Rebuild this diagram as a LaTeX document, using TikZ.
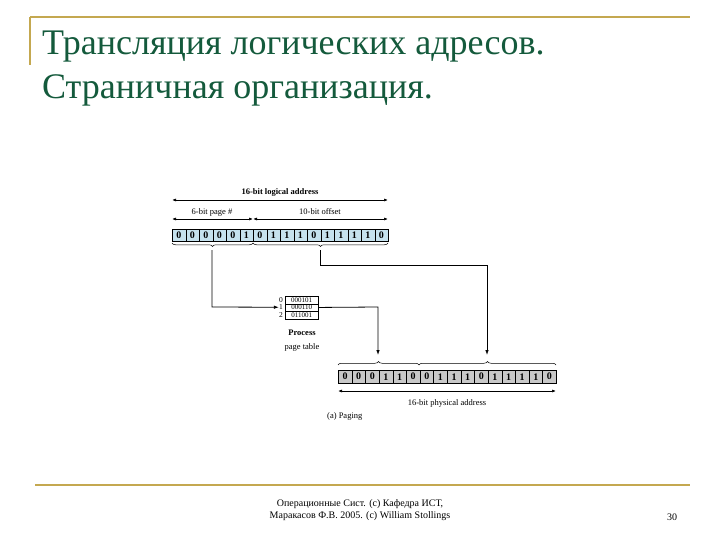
\documentclass[tikz,border=0pt]{standalone}
\usepackage{fontspec}
\setmainfont{Liberation Serif}
\newfontfamily\serf{Liberation Serif}
\usetikzlibrary{decorations.pathreplacing,arrows.meta}
\definecolor{gold}{RGB}{196,168,80}
\definecolor{titlegreen}{RGB}{20,90,60}
\definecolor{cellblue}{RGB}{198,226,238}
\definecolor{cellgrey}{RGB}{200,200,200}
\tikzset{
  dim/.style={{Latex[length=4pt,width=3pt]}-{Latex[length=4pt,width=3pt]},line width=0.7pt},
  conn/.style={-{Latex[length=5pt,width=3.5pt]},line width=0.8pt},
  brc/.style={decorate,decoration={brace,amplitude=3.5pt},line width=0.5pt},
  lbl/.style={font=\serf\fontsize{8.5}{9}\selectfont,inner sep=0pt},
  blbl/.style={font=\serf\fontsize{8.5}{9}\selectfont\bfseries,inner sep=0pt},
  bit/.style={font=\serf\fontsize{10}{10}\selectfont\bfseries,inner sep=0pt}
}
\begin{document}
\begin{tikzpicture}[x=1pt,y=-1pt]
\useasboundingbox (0,0) rectangle (720,540);
% frame
\draw[gold,line width=1.5pt] (30,17) -- (690,17);
\draw[gold,line width=1.5pt] (30,17) -- (30,65);
\draw[gold,line width=2pt] (35,485) -- (690,485);
% title
\node[anchor=base west,text=titlegreen,font=\serf\fontsize{36}{38}\selectfont,inner sep=0pt] (t1) at (42,55) {Трансляция логических адресов.};
\node[anchor=base west,text=titlegreen,font=\serf\fontsize{36}{38}\selectfont,inner sep=0pt] (t2) at (42,99) {Страничная организация.};
% logical address
\node[blbl] (la) at (280,192) {16-bit logical address};
\draw[dim] (172,200) -- (388,200);
\node[lbl] (pg) at (212,212) {6-bit page \#};
\node[lbl] (of) at (320,212) {10-bit offset};
\draw[dim] (172,219) -- (253,219);
\draw[dim] (253,219) -- (388,219);
\foreach \b [count=\i from 0] in {0,0,0,0,0,1,0,1,1,1,0,1,1,1,1,0}{
  \node[draw,fill=cellblue,minimum width=13.5pt,minimum height=12pt,bit,anchor=north west] (l\i) at ({172+13.5*\i},229) {\b};
}
\draw[brc] (253,243) -- (172,243);
\draw[brc] (388,243) -- (253,243);
\coordinate (b1) at (212,250);
\coordinate (b2) at (320,250);
% page table
\foreach \v [count=\i from 0] in {000101,000110,011001}{
  \node[draw,minimum width=33pt,minimum height=7.5pt,font=\serf\fontsize{7}{7}\selectfont,inner sep=0pt,anchor=north west] (r\i) at (285,{296+7.5*\i}) {\v};
  \node[font=\serf\fontsize{7.5}{7}\selectfont,inner sep=0pt,anchor=east] (n\i) at (283,{299.75+7.5*\i}) {\i};
}
\node[blbl] (pr) at (302,333) {Process};
\node[lbl] (pt) at (302,347) {page table};
% connectors
\draw[conn] (b1) -- (212,307) -- (n1.west);
\draw[conn] (b2) -- (320,265) -- (487,265) -- (487,355);
\draw[conn] (r1.east) -- (378,307) -- (378,355);
% physical address
\draw[brc] (338,365) -- (419,365);
\draw[brc] (419,365) -- (556,365);
\foreach \b [count=\i from 0] in {0,0,0,1,1,0,0,1,1,1,0,1,1,1,1,0}{
  \node[draw,fill=cellgrey,minimum width=13.625pt,minimum height=13pt,bit,anchor=north west] (p\i) at ({338+13.625*\i},370) {\b};
}
\draw[dim] (338,391) -- (556,391);
\node[lbl] (pa) at (447,403) {16-bit physical address};
\node[lbl,anchor=west] (cap) at (327,416) {(a) Paging};
% footer
\node[font=\serf\fontsize{10}{12}\selectfont,align=center,inner sep=0pt] (f) at (360,510) {Операционные Сист. (c) Кафедра ИСТ,\\Маракасов Ф.В. 2005. (c) William Stollings};
\node[font=\serf\fontsize{10}{12}\selectfont,inner sep=0pt] (pn) at (672,517) {30};
\end{tikzpicture}
\end{document}
